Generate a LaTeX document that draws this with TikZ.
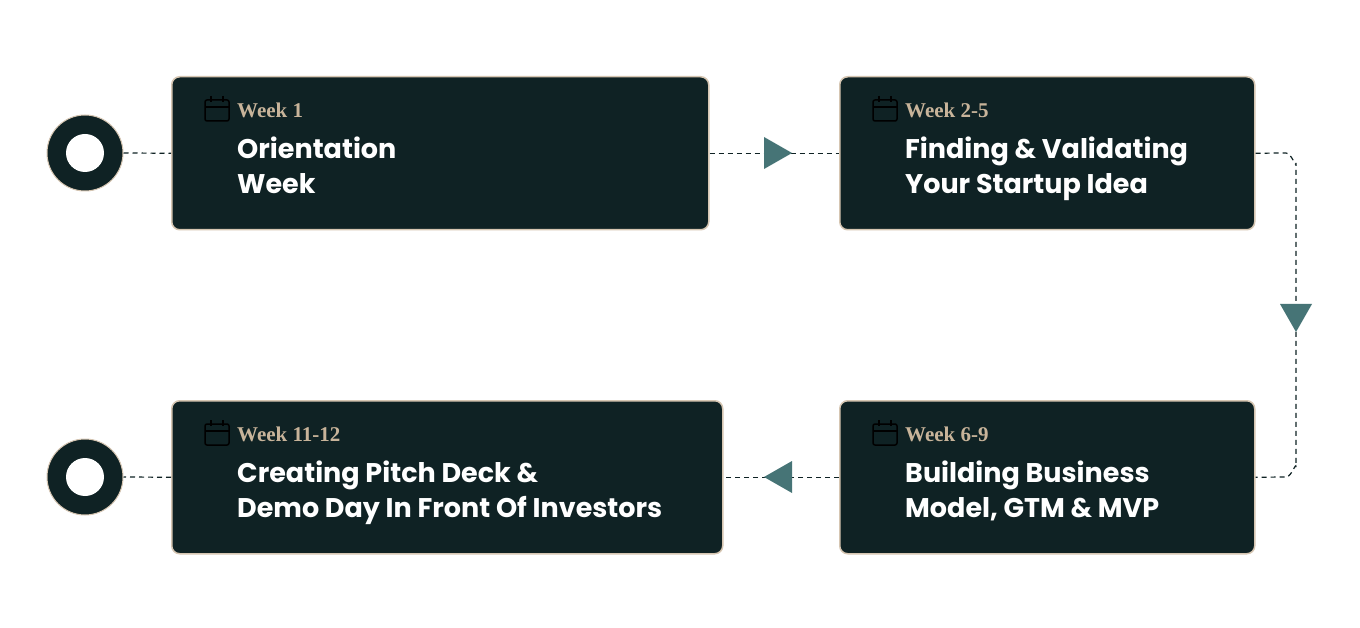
\documentclass[tikz,border=0pt]{standalone}
\usepackage{fontspec}
\usetikzlibrary{calc}
\setmainfont{Poppins}
\newfontfamily\wkfont{Liberation Serif}
\begin{document}
\definecolor{dk}{HTML}{0F2224}
\definecolor{tan}{HTML}{D6C6B2}
\definecolor{wk}{HTML}{C8B49A}
\definecolor{tri}{HTML}{467476}
\begin{tikzpicture}[x=1pt,y=-1pt,
 box/.style={draw=tan,line width=1.5pt,fill=dk,rounded corners=8pt,minimum height=153pt,anchor=north west,inner sep=0pt},
 ring/.style={circle,draw=tan,line width=1pt,fill=dk,minimum size=76pt,inner sep=0pt},
 hole/.style={circle,fill=white,minimum size=38pt,inner sep=0pt},
 dsh/.style={dk,line width=1.2pt,dash pattern=on 5pt off 4pt},
 wk/.style={text=wk,font=\wkfont\bfseries\fontsize{21}{24}\selectfont,anchor=west,inner sep=0pt},
 ttl/.style={text=white,font=\bfseries\fontsize{27}{35}\selectfont,anchor=north west,align=left,inner sep=0pt},
 cal/.pic={\draw[wk,line width=1.5pt,rounded corners=2pt](-12,-10) rectangle (12,11);
   \draw[wk,line width=1.5pt](-12,-3)--(12,-3);
   \draw[wk,line width=1.5pt](-6,-14)--(-6,-8) (6,-14)--(6,-8);}]
\useasboundingbox (0,0) rectangle (1360,628);
\fill[white] (0,0) rectangle (1360,628);
\node[box,minimum width=537pt] (b1) at (171,76) {};
\node[box,minimum width=415pt] (b2) at (839,76) {};
\node[box,minimum width=551pt] (b3) at (171,400) {};
\node[box,minimum width=415pt] (b4) at (839,400) {};
\node[ring] (c1) at (85,153) {}; \node[hole] at (c1) {};
\node[ring] (c2) at (85,477) {}; \node[hole] at (c2) {};
\draw[dsh] (c1.east)--(b1.west);
\draw[dsh] (b1.east)--(b2.west);
\draw[dsh] (b2.east)--(1286,153) to[out=0,in=-90] (1296,163) -- (1296,467) to[out=90,in=0] (1286,477) -- (b4.east);
\draw[dsh] (b4.west)--(b3.east);
\draw[dsh] (b3.west)--(c2.east);
\coordinate (t1) at (778,153); \coordinate (t2) at (1296,318); \coordinate (t3) at (778,477);
\fill[tri] ($(t1)+(-14,-16)$)--($(t1)+(14,0)$)--($(t1)+(-14,16)$)--cycle;
\fill[tri] ($(t2)+(-16,-14)$)--($(t2)+(16,-14)$)--($(t2)+(0,14)$)--cycle;
\fill[tri] ($(t3)+(14,-16)$)--($(t3)+(-14,0)$)--($(t3)+(14,16)$)--cycle;
\foreach \b in {b1,b2,b3,b4}{
 \pic at ($(\b.north west)+(46,34)$) {cal};
}
\node[wk] (w1) at ($(b1.north west)+(66,34)$) {Week 1};
\node[ttl] (x1) at ($(b1.north west)+(66,61)$) {Orientation\\Week};
\node[wk] (w2) at ($(b2.north west)+(66,34)$) {Week 2-5};
\node[ttl] (x2) at ($(b2.north west)+(66,61)$) {Finding \& Validating\\Your Startup Idea};
\node[wk] (w3) at ($(b3.north west)+(66,34)$) {Week 11-12};
\node[ttl] (x3) at ($(b3.north west)+(66,61)$) {Creating Pitch Deck \&\\Demo Day In Front Of Investors};
\node[wk] (w4) at ($(b4.north west)+(66,34)$) {Week 6-9};
\node[ttl] (x4) at ($(b4.north west)+(66,61)$) {Building Business\\Model, GTM \& MVP};
\end{tikzpicture}
\end{document}
